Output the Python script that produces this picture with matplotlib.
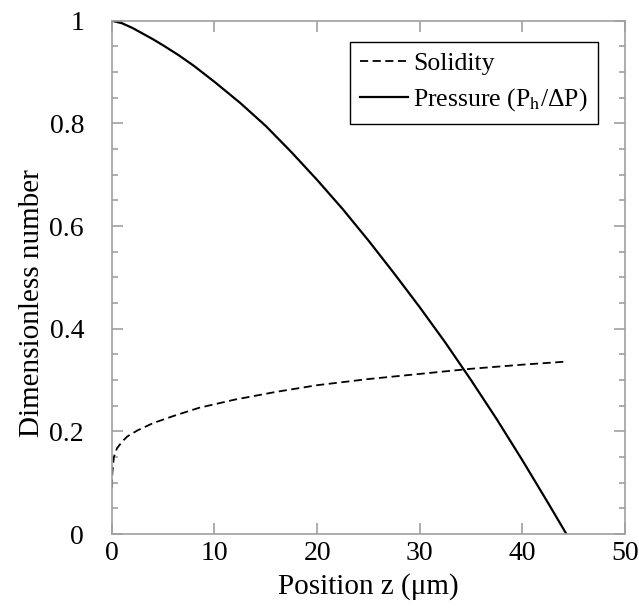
import matplotlib
matplotlib.use("Agg")
import matplotlib.pyplot as plt
from matplotlib.ticker import MultipleLocator

plt.rcParams['font.family'] = ['Liberation Serif', 'DejaVu Serif']
plt.rcParams['mathtext.fontset'] = 'stix'

# pressure profile P_h / dP along z (um)
z_pressure = [0, 1, 2, 3, 4, 5, 6.5, 8, 10, 12.5, 15, 17.5, 20, 22.5, 25,
              27.5, 30, 32.5, 35, 37.5, 40, 42.5, 44.3]
pressure = [1.0, 0.995, 0.986, 0.975, 0.964, 0.952, 0.933, 0.912, 0.881,
            0.840, 0.795, 0.744, 0.690, 0.633, 0.572, 0.508, 0.442, 0.373,
            0.300, 0.224, 0.144, 0.061, 0.0]

# solidity along z (um)
z_solidity = [0, 0.05, 0.2, 0.5, 1, 1.5, 2.5, 4, 6, 8.5, 12, 16, 20, 25, 30,
              35, 40, 44.3]
solidity = [0.09, 0.12, 0.15, 0.167, 0.18, 0.19, 0.202, 0.216, 0.23, 0.246,
            0.262, 0.277, 0.29, 0.302, 0.312, 0.322, 0.330, 0.336]

x_ticks = [0, 10, 20, 30, 40, 50]
y_ticks = [0, 0.2, 0.4, 0.6, 0.8, 1]
y_ticklabels = ['0', '0.2', '0.4', '0.6', '0.8', '1']

fig = plt.figure(figsize=(6.39, 6.09), dpi=100)
ax = fig.add_axes([0.175, 0.123, 0.803, 0.843])

ax.plot(z_solidity, solidity, color='black', lw=1.3, dashes=(4.5, 2.5),
        label='Solidity')
ax.plot(z_pressure, pressure, color='black', lw=1.6,
        label=r'Pressure (P$_{\mathrm{h}}$/ΔP)')

ax.set_xlim(0, 50)
ax.set_ylim(0, 1)
ax.set_xticks(x_ticks)
ax.set_yticks(y_ticks)
ax.set_yticklabels(y_ticklabels)
ax.yaxis.set_minor_locator(MultipleLocator(0.05))

gray = '#a0a0a0'
for s in ax.spines.values():
    s.set_color(gray)
    s.set_linewidth(1.2)
ax.tick_params(which='both', direction='in', top=True, right=True,
               color=gray, labelsize=20, width=1.2)
ax.tick_params(which='major', length=8)
ax.tick_params(which='minor', length=4)
ax.tick_params(axis='x', which='major', pad=5)
ax.tick_params(axis='y', which='major', pad=20)

ax.set_xlabel('Position z (μm)', fontsize=21, labelpad=5)
ax.set_ylabel('Dimensionless number', fontsize=21)
# label sits a bit below the axis centre in the original
ax.yaxis.set_label_coords(-0.13, 0.45)

leg = ax.legend(loc='upper right', bbox_to_anchor=(0.947, 0.959),
                fontsize=18.5, fancybox=False, framealpha=1, edgecolor='black',
                handlelength=1.85, handletextpad=0.2, borderpad=0.4,
                labelspacing=0.45, borderaxespad=0)
leg.get_frame().set_linewidth(1.0)

fig.savefig('out.png', dpi=100)
